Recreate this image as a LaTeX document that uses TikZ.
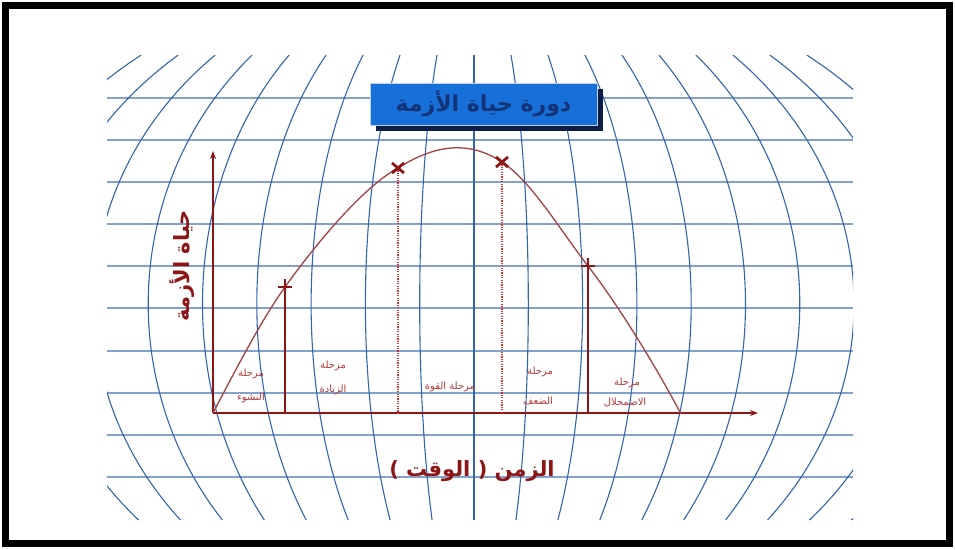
\documentclass[tikz,border=0pt]{standalone}
\usepackage{fontspec}
\TeXXeTstate=1
\newfontfamily\arabicfont[Script=Arabic]{DejaVu Sans}
\usetikzlibrary{arrows.meta,calc}
\definecolor{gridh}{RGB}{130,162,205}
\definecolor{gridv}{RGB}{50,100,175}
\definecolor{axisred}{RGB}{140,22,22}
\definecolor{curvered}{RGB}{165,65,65}
\definecolor{labelred}{RGB}{180,55,55}
\definecolor{dotred}{RGB}{225,45,45}
\definecolor{titleblue}{RGB}{22,112,216}
\definecolor{titletext}{RGB}{20,50,120}
\definecolor{shadowblue}{RGB}{12,30,72}
\begin{document}
\begin{tikzpicture}[x=1pt,y=-1pt,
  hline/.style={draw=gridh, line width=1.8},
  meridian/.style={draw=gridv, line width=1.1},
  axisline/.style={draw=axisred, line width=2, -{Stealth[length=8,width=6]}},
  curveline/.style={draw=curvered, line width=1.3},
  dropsolid/.style={draw=axisred, line width=1.3},
  dropdot/.style={draw=dotred, line width=1.6, dash pattern=on 1.2pt off 1.2pt},
  crossmk/.style={draw=axisred, line width=2.8},
  lbl/.style={text=labelred, font=\arabicfont\fontsize{10}{12}\selectfont, inner sep=1pt},
  biglbl/.style={text=axisred, font=\arabicfont\bfseries\fontsize{21}{25}\selectfont, inner sep=1pt},
  titlebox/.style={fill=titleblue, draw=white!70!titleblue, line width=0.8, minimum width=227, minimum height=42, inner sep=0pt,
     text=titletext, font=\arabicfont\bfseries\fontsize{22}{26}\selectfont}]
\useasboundingbox (0,0) rectangle (955,549);
\fill[white] (0,0) rectangle (955,549);
% background grid
\begin{scope}
\clip (107,55) rectangle (853,520);
\foreach \yy in {98,140,182,224,266,308,351,393,435,477}
  \draw[hline] (107,\yy) -- (853,\yy);
\foreach \k in {-9,...,9}
  \draw[meridian] plot[domain=55:520, samples=60, variable=\t]
     ({474+\k*54.3*sqrt(1-((\t-304)/340)^2)}, \t);
\end{scope}
% frame
\draw[black, line width=7] (5,5) rectangle (949,543);
% title
\fill[shadowblue] (376,89) rectangle (603,131);
\node[titlebox] (title) at (483.5,104) {\beginR دورة حياة الأزمة\endR};
% axes
\coordinate (O) at (213,413);
\coordinate (ytop) at (213,151);
\coordinate (xend) at (758,413);
\draw[axisline] (O) -- (ytop);
\draw[axisline] (O) -- (xend);
% curve points
\coordinate (p1) at (285,287);
\coordinate (p2) at (398,168);
\coordinate (p3) at (502,162);
\coordinate (p4) at (588,266);
\coordinate (pend) at (681,414);
\coordinate (q1) at (285,413);
\coordinate (q2) at (398,413);
\coordinate (q3) at (502,413);
\coordinate (q4) at (588,413);
% drop lines
\draw[dropsolid] (p1) -- (q1);
\draw[dropdot] (p2) -- (q2);
\draw[dropdot] (p3) -- (q3);
\draw[dropsolid, line width=2] (p4) -- (q4);
% curve
\draw[curveline] (O) .. controls (233,375) and (260,322) .. (p1)
   .. controls (315,245) and (363,187) .. (p2)
   .. controls (433,146) and (467,139) .. (p3)
   .. controls (532,182) and (560,230) .. (p4)
   .. controls (618,305) and (654,363) .. (pend);
% crosses
\draw[crossmk] ($(p1)+(-7,0)$) -- ($(p1)+(7,0)$) ($(p1)+(0,-8)$) -- ($(p1)+(0,8)$);
\draw[crossmk] ($(p2)+(-6,-5)$) -- ($(p2)+(6,5)$) ($(p2)+(-6,5)$) -- ($(p2)+(6,-5)$);
\draw[crossmk] ($(p3)+(-6,-5)$) -- ($(p3)+(6,5)$) ($(p3)+(-6,5)$) -- ($(p3)+(6,-5)$);
\draw[crossmk] ($(p4)+(-7,0)$) -- ($(p4)+(7,0)$) ($(p4)+(0,-8)$) -- ($(p4)+(0,8)$);
% phase labels
\node[lbl] (a1) at (251,374) {\beginR مرحلة\endR};
\node[lbl] (a2) at (251,398) {\beginR النشوء\endR};
\node[lbl] (b1) at (333,366) {\beginR مرحلة\endR};
\node[lbl] (b2) at (333,390) {\beginR الزيادة\endR};
\node[lbl] (c1) at (450,387) {\beginR مرحلة القوة\endR};
\node[lbl] (d1) at (540,372) {\beginR مرحلة\endR};
\node[lbl] (d2) at (538,401) {\beginR الضعف\endR};
\node[lbl] (e1) at (627,383) {\beginR مرحلة\endR};
\node[lbl] (e2) at (625,402) {\beginR الاضمحلال\endR};
% axis labels
\node[biglbl, rotate=90] (ylab) at (182,266) {\beginR حياة الأزمة\endR};
\node[biglbl] (xlab) at (472,471) {) \beginR الوقت\endR{} ( \beginR الزمن\endR};
\end{tikzpicture}
\end{document}
